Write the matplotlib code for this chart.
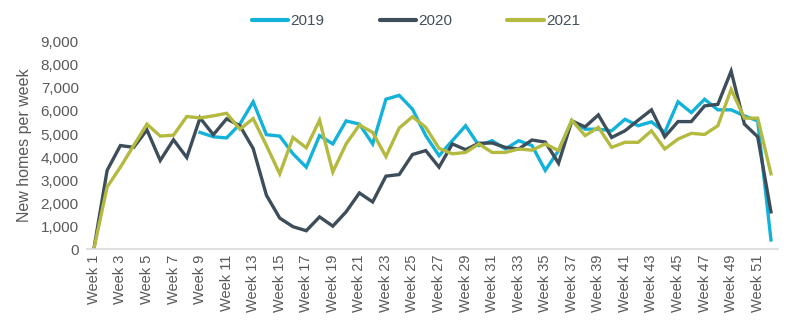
import matplotlib
matplotlib.use("Agg")
from matplotlib import pyplot as plt
import numpy as np

### data
weeks = list(range(1, 53))
week_labels = ["Week {}".format(w) for w in weeks]

# 2019 series only starts at week 9
homes_2019 = [np.nan] * 8 + [
    5070, 4880, 4830, 5430, 6400, 4970, 4910, 4140, 3560,
    4930, 4570, 5570, 5430, 4570, 6510, 6680, 6080, 4930, 4060,
    4710, 5360, 4500, 4710, 4350, 4710, 4500, 3420, 4280, 5570,
    5210, 5210, 5140, 5640, 5360, 5530, 5070, 6400, 5930, 6510,
    6050, 6050, 5790, 5570, 400]
homes_2020 = [
    0, 3420, 4500, 4420, 5180, 3850, 4750, 3980, 5700, 4970,
    5660, 5360, 4370, 2340, 1350, 975, 800, 1400, 1000, 1620,
    2440, 2050, 3170, 3240, 4110, 4280, 3560, 4570, 4320, 4600,
    4610, 4420, 4350, 4740, 4650, 3730, 5570, 5310, 5830, 4850,
    5140, 5600, 6050, 4880, 5540, 5540, 6220, 6290, 7730, 5430,
    4880, 1620]
homes_2021 = [
    0, 2700, 3560, 4500, 5430, 4910, 4950, 5760, 5700, 5790,
    5900, 5210, 5670, 4500, 3270, 4850, 4400, 5600, 3350, 4570,
    5390, 5070, 4020, 5260, 5750, 5290, 4380, 4140, 4200, 4570,
    4200, 4200, 4350, 4300, 4570, 4280, 5600, 4930, 5290, 4420,
    4640, 4640, 5140, 4350, 4780, 5030, 4980, 5360, 6940, 5690,
    5690, 3270]

series = [("2019", homes_2019, "#12B2D9"),
          ("2020", homes_2020, "#3D4E5A"),
          ("2021", homes_2021, "#B4BA3F")]

plt.rcParams['font.family'] = ['Liberation Sans', 'DejaVu Sans']
grey = '#595959'

fig = plt.figure(figsize=(8, 3.3), dpi=100)
ax = fig.add_axes([0.109, 0.245, 0.863, 0.628])

for name, vals, col in series:
    ax.plot(weeks, vals, color=col, linewidth=2.4, label=name,
            solid_joinstyle='miter')

ax.set_xlim(0.5, 52.5)
ax.set_ylim(0, 9000)
ax.set_yticks(range(0, 9001, 1000))
ax.set_yticklabels(["{:,}".format(v) for v in range(0, 9001, 1000)])
ax.set_xticks(weeks[::2])
ax.set_xticklabels(week_labels[::2], rotation=90)

ax.tick_params(axis='y', length=0, labelsize=11, labelcolor=grey, pad=6)
ax.tick_params(axis='x', length=0, labelsize=10.5, labelcolor=grey, pad=4)
ax.set_ylabel("New homes per week", fontsize=11.5, color=grey, labelpad=6)

for s in ['top', 'right', 'left']:
    ax.spines[s].set_visible(False)
ax.spines['bottom'].set_color('#D9D9D9')
ax.spines['bottom'].set_linewidth(1.2)

leg = fig.legend(loc='center', bbox_to_anchor=(0.52, 0.936), ncol=3,
                 frameon=False, fontsize=11, handlelength=2.4,
                 handletextpad=0.15, columnspacing=3.6, labelcolor='#44505A')
for h in leg.legend_handles:
    h.set_linewidth(3)
    h.set_solid_capstyle('round')

fig.savefig("out.png", dpi=100)
